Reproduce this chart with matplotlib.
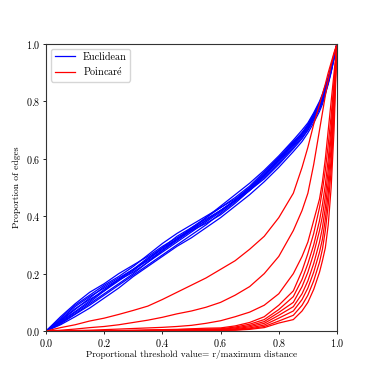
import matplotlib
matplotlib.use("Agg")
import matplotlib.pyplot as plt
import numpy as np

plt.rcParams['font.family'] = ['cmr10', 'DejaVu Serif']
plt.rcParams['mathtext.fontset'] = 'cm'
plt.rcParams['axes.formatter.use_mathtext'] = True

# proportional threshold values (shared x grid)
x = [0, .05, .1, .15, .2, .25, .3, .35, .4, .45, .5, .55, .6, .65, .7, .75,
     .8, .85, .88, .9, .92, .94, .95, .96, .97, .98, .99, 1.0]

# Euclidean runs
euclid = [
    [0, .05, .095, .135, .165, .2, .23, .26, .295, .325, .355, .385, .42, .455, .495, .54, .59, .645, .68, .705, .74, .78, .805, .835, .87, .91, .955, 1],
    [0, .022, .05, .08, .115, .15, .19, .225, .26, .295, .325, .36, .395, .435, .475, .52, .57, .625, .66, .69, .725, .765, .79, .825, .86, .9, .95, 1],
    [0, .04, .085, .12, .15, .18, .215, .255, .29, .32, .35, .375, .405, .445, .49, .54, .595, .65, .685, .71, .745, .785, .81, .84, .875, .915, .955, 1],
    [0, .03, .065, .1, .14, .18, .215, .25, .285, .32, .355, .395, .435, .475, .515, .56, .61, .665, .70, .725, .76, .80, .825, .855, .885, .92, .96, 1],
    [0, .035, .075, .115, .155, .185, .215, .245, .28, .315, .35, .385, .42, .455, .49, .53, .58, .635, .67, .70, .735, .775, .80, .83, .865, .905, .95, 1],
    [0, .028, .06, .095, .13, .165, .2, .24, .28, .32, .36, .395, .43, .465, .505, .555, .605, .66, .69, .715, .75, .79, .815, .845, .875, .915, .955, 1],
    [0, .045, .09, .125, .16, .19, .225, .265, .305, .34, .37, .4, .43, .46, .5, .545, .595, .65, .685, .71, .745, .785, .81, .84, .87, .91, .955, 1],
    [0, .025, .058, .09, .125, .16, .195, .23, .265, .3, .335, .37, .41, .45, .49, .535, .585, .64, .675, .70, .735, .775, .80, .83, .865, .905, .95, 1],
    [0, .038, .078, .11, .14, .175, .21, .25, .29, .33, .36, .39, .42, .455, .495, .545, .6, .655, .69, .715, .75, .79, .815, .845, .875, .915, .955, 1],
    [0, .033, .068, .105, .145, .178, .205, .24, .275, .31, .345, .38, .415, .455, .5, .55, .6, .655, .69, .72, .755, .795, .82, .85, .88, .92, .96, 1],
]

# Poincare runs
poincare = [
    [0, .012, .022, .035, .045, .058, .072, .087, .11, .135, .16, .185, .215, .245, .285, .33, .395, .48, .57, .64, .72, .79, .825, .86, .9, .935, .97, 1],
    [0, .003, .007, .012, .016, .022, .03, .038, .048, .06, .07, .083, .10, .125, .155, .20, .26, .35, .42, .48, .58, .70, .76, .82, .875, .925, .965, 1],
    [0, .001, .002, .003, .005, .007, .009, .011, .013, .016, .02, .027, .036, .05, .066, .09, .13, .20, .26, .31, .385, .46, .52, .60, .70, .80, .90, 1],
    [0, 0, 0, .001, .001, .002, .003, .004, .005, .006, .008, .010, .011, .018, .030, .050, .090, .14, .21, .27, .34, .43, .49, .56, .65, .75, .87, 1],
    [0, 0, 0, 0, .001, .001, .002, .003, .004, .005, .006, .007, .008, .014, .024, .040, .075, .12, .18, .235, .30, .385, .44, .51, .60, .71, .85, 1],
    [0, 0, 0, 0, 0, .001, .001, .002, .003, .004, .005, .005, .006, .011, .019, .033, .065, .10, .155, .205, .27, .35, .40, .47, .56, .68, .83, 1],
    [0, 0, 0, 0, 0, 0, .001, .001, .002, .003, .004, .004, .005, .008, .015, .027, .055, .085, .13, .175, .235, .31, .36, .43, .52, .64, .80, 1],
    [0, 0, 0, 0, 0, 0, 0, .001, .001, .002, .003, .003, .003, .006, .011, .021, .045, .07, .11, .15, .205, .275, .32, .39, .48, .60, .78, 1],
    [0, 0, 0, 0, 0, 0, 0, 0, .001, .001, .002, .002, .002, .004, .008, .016, .035, .055, .09, .125, .175, .24, .285, .35, .44, .56, .75, 1],
    [0, 0, 0, 0, 0, 0, 0, 0, 0, .001, .001, .001, .002, .003, .006, .012, .028, .04, .07, .10, .145, .205, .245, .29, .37, .50, .70, 1],
]

fig = plt.figure(figsize=(3.74, 3.72), dpi=100)
ax = fig.add_axes([0.123, 0.110, 0.778, 0.772])

for i, run in enumerate(euclid):
    ax.plot(x, run, color='blue', lw=0.9, label='Euclidean' if i == 0 else None)
for i, run in enumerate(poincare):
    ax.plot(x, run, color='red', lw=0.9,
            label=r'Poincar$\acute{\mathrm{e}}$' if i == 0 else None)

ax.set_xlim(0, 1)
ax.set_ylim(0, 1)
ax.set_xticks(np.arange(0, 1.01, 0.2))
ax.set_yticks(np.arange(0, 1.01, 0.2))
ax.tick_params(labelsize=7.3, length=2.5, width=0.6, pad=1.5)
for s in ax.spines.values():
    s.set_linewidth(0.8)
    s.set_color('#333333')
ax.set_xlabel('Proportional threshold value= r/maximum distance', fontsize=6.7, labelpad=1)
ax.set_ylabel('Proportion of edges', fontsize=6.9, labelpad=3.5)
ax.legend(loc='upper left', fontsize=7.3, handlelength=2.0, handletextpad=0.75,
          borderpad=0.35, labelspacing=0.35, borderaxespad=0.5)

fig.savefig('out.png', dpi=100)
